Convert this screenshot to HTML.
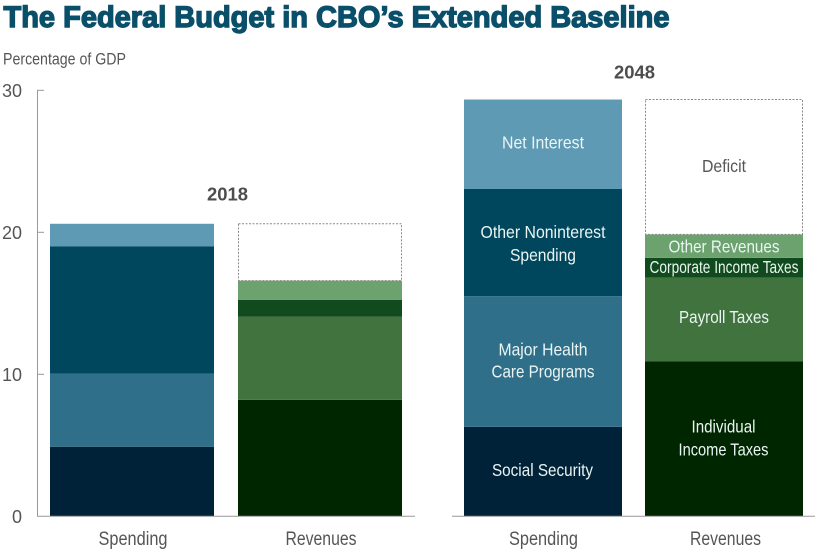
<!DOCTYPE html>
<html lang="en">
<head>
<meta charset="utf-8">
<title>The Federal Budget in CBO's Extended Baseline</title>
<style>
html,body{margin:0;padding:0;background:#fff;width:825px;height:550px;overflow:hidden}
svg{display:block}
text{font-family:"Liberation Sans",sans-serif}
</style>
</head>
<body>
<svg id="chart" width="825" height="550" viewBox="0 0 825 550" xmlns="http://www.w3.org/2000/svg">
  <text x="3.5" y="27" font-size="30" font-weight="700" fill="#0a4f69" stroke="#0a4f69" stroke-width="1.4" textLength="666" lengthAdjust="spacingAndGlyphs">The Federal Budget in CBO’s Extended Baseline</text>
  <text x="3" y="64.5" font-size="16.5" fill="#555" textLength="123" lengthAdjust="spacingAndGlyphs">Percentage of GDP</text>
</svg>
<script>
const yTicks = [0, 10, 20, 30];
const panels = ['2018', '2048'];
const columns = ['Spending', 'Revenues'];
const spendingNames = ['Social Security', 'Major Health Care Programs', 'Other Noninterest Spending', 'Net Interest'];
const revenueNames = ['Individual Income Taxes', 'Payroll Taxes', 'Corporate Income Taxes', 'Other Revenues', 'Deficit'];
const spending2018 = [4.9, 5.15, 8.95, 1.6];
const revenues2018 = [8.2, 5.85, 1.2, 1.35, 4.0];
const spending2048 = [6.3, 9.2, 7.55, 6.3];
const revenues2048 = [10.9, 5.9, 1.4, 1.65, 9.5];
const spendingLabelLines = [['Social Security'], ['Major Health', 'Care Programs'], ['Other Noninterest', 'Spending'], ['Net Interest']];
const revenueLabelLines = [['Individual', 'Income Taxes'], ['Payroll Taxes'], ['Corporate Income Taxes'], ['Other Revenues'], ['Deficit']];

const NS = 'http://www.w3.org/2000/svg';
const svg = document.getElementById('chart');
const spendingColors = ['#002238', '#2f6f8a', '#00465d', '#5f9ab5'];
const revenueColors = ['#002600', '#41733e', '#114a1c', '#6ba26d', '#ffffff'];
const spendingLabelWidths = [[101], [89, 103], [125, 66], [82]];
const revenueLabelWidths = [[64, 90], [90], [149], [111], [44]];
const spendingLabelShift = [[4.5], [-6, 16], [-4.5, 18.5], [4]];
const revenueLabelShift = [[-6.5, 16.5], [3.5], [5], [6.5], [5]];

const yScale = v => 516.3 - v * 14.2;

function make(tag, attrs, parent) {
  const el = document.createElementNS(NS, tag);
  for (const k in attrs) el.setAttribute(k, attrs[k]);
  (parent || svg).appendChild(el);
  return el;
}

/* axes */
const axisLine = make('line', {x1: 37.5, x2: 37.5, y1: yScale(30), y2: yScale(0), stroke: '#999', 'stroke-width': 1});


yTicks.forEach(t => {
  if (t > 0) {
    const tick = make('line', {x1: 37, x2: 44, y1: yScale(t), y2: yScale(t), stroke: '#999', 'stroke-width': 1});
    
    
  }
  const lab = make('text', {x: 22, y: yScale(t) + 6.5, 'font-size': 18, 'text-anchor': 'end', fill: '#555'});
  lab.textContent = t;
  
  
});

/* bars */
const layout = [
  {spend: spending2018, rev: revenues2018, x1: 50, w1: 164, x2: 238, w2: 164, ax1: 37, ax2: 415, yearX: 227.5, yearOffset: 23.5, labels: false, capS: 133, capR: 321},
  {spend: spending2048, rev: revenues2048, x1: 464, w1: 158, x2: 645, w2: 158, ax1: 452, ax2: 815, yearX: 634.5, yearOffset: 21, labels: true, capS: 543.5, capR: 725.5}
];

function drawStack(values, names, colors, lines, widths, shifts, x, w, showLabels) {
  let cum = 0;
  values.forEach((v, i) => {
    const y0 = yScale(cum), y1 = yScale(cum + v);
    const isDeficit = names[i] === 'Deficit';
    const seg = make('rect', {x: x, y: y1, width: w, height: y0 - y1, fill: colors[i]});
    if (isDeficit) {
      seg.setAttribute('x', x + 0.5);
      seg.setAttribute('width', w - 1);
      seg.setAttribute('stroke', '#8a8a8a');
      seg.setAttribute('stroke-width', 1);
      seg.setAttribute('stroke-dasharray', '2 1.5');
    }
    
    
    if (showLabels) {
      const mid = (y0 + y1) / 2;
      lines[i].forEach((line, j) => {
        const t = make('text', {x: x + w / 2 - (i === 0 && !isDeficit ? 0.5 : 0), y: mid + shifts[i][j], 'font-size': 17.5, 'text-anchor': 'middle',
          fill: isDeficit ? '#555' : '#eaf5f3', textLength: widths[i][j], lengthAdjust: 'spacingAndGlyphs'});
        t.textContent = line;
        
        
      });
    }
    cum += v;
  });
  return cum;
}

layout.forEach((p, i) => {
  const topS = drawStack(p.spend, spendingNames, spendingColors, spendingLabelLines, spendingLabelWidths, spendingLabelShift, p.x1, p.w1, p.labels);
  drawStack(p.rev, revenueNames, revenueColors, revenueLabelLines, revenueLabelWidths, revenueLabelShift, p.x2, p.w2, p.labels);

  const year = make('text', {x: p.yearX, y: yScale(topS) - p.yearOffset, 'font-size': 18, 'font-weight': 700, 'text-anchor': 'middle', fill: '#4d4d4d', textLength: 41, lengthAdjust: 'spacingAndGlyphs'});
  year.textContent = panels[i];
  
  

  const base = make('line', {x1: p.ax1, x2: p.ax2, y1: yScale(0), y2: yScale(0), stroke: '#999', 'stroke-width': 1});
  
  

  [p.capS, p.capR].forEach((cx, j) => {
    const c = make('text', {x: cx, y: 545, 'font-size': 19, 'text-anchor': 'middle', fill: '#555', textLength: j === 0 ? 69 : 71, lengthAdjust: 'spacingAndGlyphs'});
    c.textContent = columns[j];
    
    
  });
});
</script>
</body>
</html>
